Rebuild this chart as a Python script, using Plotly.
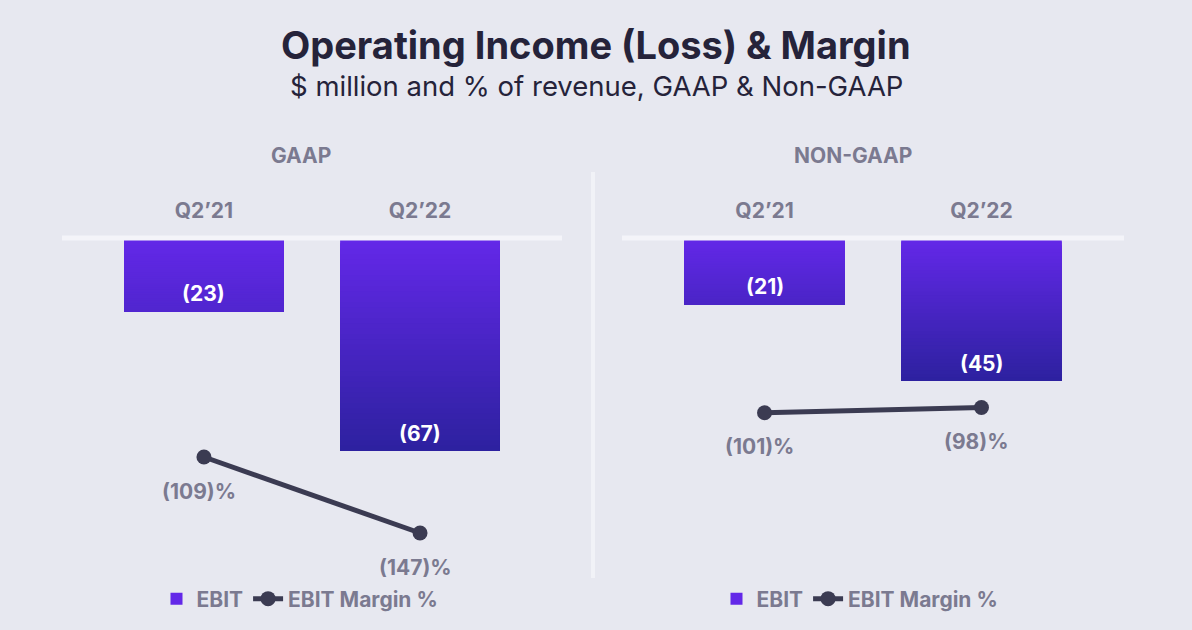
import plotly.graph_objects as go

# ---------------- data ----------------
categories = ["Q2’21", "Q2’22"]
gaap_ebit = [-23, -67]
gaap_margin = [-109, -147]
nongaap_ebit = [-21, -45]
nongaap_margin = [-101, -98]
panel_titles = ["GAAP", "NON-GAAP"]
title_text = "Operating Income (Loss) & Margin"
subtitle_text = "$ million and % of revenue, GAAP & Non-GAAP"

# ---------------- style ----------------
BG = "#e7e8f0"
DARK = "#25233a"
GRAY = "#7b7a90"
LINE = "#3b3b52"
TOP_C = (99, 40, 232)
BOT_C = (44, 33, 158)
BOLD_FONT = "Inter"
LBL = 21
W, H = 1192, 630


def lerp(t):
    c = [round(a + (b - a) * t) for a, b in zip(TOP_C, BOT_C)]
    return "rgb(%d,%d,%d)" % tuple(c)


def py(p):
    return 1 - p / H


fig = go.Figure()
N = 40
panels = [
    dict(ebit=gaap_ebit, margin=gaap_margin, xa="x", ya="y", ym="y2", legend="legend"),
    dict(ebit=nongaap_ebit, margin=nongaap_margin, xa="x2", ya="y3", ym="y4", legend="legend2"),
]

for p in panels:
    vals = p["ebit"]
    vmax = max(abs(v) for v in vals)
    for k in range(N):
        bases = [v * k / N for v in vals]
        ys = [v - b for v, b in zip(vals, bases)]
        if k == 0:
            colors = [lerp(0)] * len(vals)
        else:
            colors = [lerp(min(1, abs(b) / vmax)) for b in bases]
        fig.add_trace(go.Bar(
            x=categories, y=ys, base=bases, width=0.74,
            marker=dict(color=colors, line=dict(width=0)),
            name="EBIT", showlegend=(k == 0), legend=p["legend"],
            xaxis=p["xa"], yaxis=p["ya"], hoverinfo="skip",
        ))
    fig.add_trace(go.Scatter(
        x=categories, y=p["margin"], mode="lines+markers",
        line=dict(color=LINE, width=5),
        marker=dict(color=LINE, size=15),
        name="EBIT Margin %", legend=p["legend"],
        xaxis=p["xa"], yaxis=p["ym"], hoverinfo="skip",
    ))
    for c, v in zip(categories, vals):
        fig.add_annotation(x=c, y=v, xref=p["xa"], yref=p["ya"], text=f"({abs(v)})",
                           showarrow=False, yshift=18, yanchor="middle", xanchor="center",
                           font=dict(family=BOLD_FONT, size=LBL, color="white", weight="bold"))
    for c, v in zip(categories, p["margin"]):
        fig.add_annotation(x=c, y=v, xref=p["xa"], yref=p["ym"], text=f"({abs(v)})%",
                           showarrow=False, yshift=-34, xshift=-5, yanchor="middle", xanchor="center",
                           font=dict(family=BOLD_FONT, size=LBL, color=GRAY, weight="bold"))
    fig.add_shape(type="line", xref=p["xa"] + " domain", yref=p["ya"], x0=0, x1=1, y0=0, y1=0,
                  line=dict(color="#f4f4f9", width=5), layer="above")

ydom = [py(580), py(230)]
SCALE = 3.18
bar_range = [-(580 - 238) / SCALE, (238 - 230) / SCALE]
xrange_ = [-0.657, 1.657]
xcommon = dict(type="category", range=xrange_, side="top", showgrid=False, zeroline=False,
               showline=False, ticks="", ticklabelstandoff=7,
               tickfont=dict(family=BOLD_FONT, size=LBL, color=GRAY, weight="bold"),
               fixedrange=True)
ycommon = dict(domain=ydom, showgrid=False, zeroline=False, showline=False,
               showticklabels=False, ticks="", fixedrange=True)

legend_font = dict(family=BOLD_FONT, size=LBL, color=GRAY, weight="bold")
fig.update_layout(
    width=W, height=H,
    paper_bgcolor=BG, plot_bgcolor="rgba(0,0,0,0)",
    margin=dict(l=0, r=0, t=0, b=0),
    barmode="overlay",
    xaxis=dict(domain=[62 / W, 562 / W], anchor="y", **xcommon),
    xaxis2=dict(domain=[622 / W, 1124 / W], anchor="y3", **xcommon),
    yaxis=dict(anchor="x", range=bar_range, **ycommon),
    yaxis2=dict(anchor="x", overlaying="y", range=[-(580 - 239) / 2.0, (239 - 230) / 2.0], **ycommon),
    yaxis3=dict(anchor="x2", range=bar_range, **ycommon),
    yaxis4=dict(anchor="x2", overlaying="y3", range=[-(580 - 239) / 1.72, (239 - 230) / 1.72], **ycommon),
    legend=dict(orientation="h", x=300 / W, xanchor="center", y=py(599), yanchor="middle",
                bgcolor="rgba(0,0,0,0)", font=legend_font),
    legend2=dict(orientation="h", x=860 / W, xanchor="center", y=py(599), yanchor="middle",
                 bgcolor="rgba(0,0,0,0)", font=legend_font),
    showlegend=True,
)

# titles
fig.add_annotation(x=0.5, y=py(45), xref="paper", yref="paper", text=title_text, showarrow=False,
                   yanchor="middle", xanchor="center",
                   font=dict(family=BOLD_FONT, size=38, color=DARK, weight="bold"))
fig.add_annotation(x=0.5, y=py(86), xref="paper", yref="paper", text=subtitle_text, showarrow=False,
                   yanchor="middle", xanchor="center",
                   font=dict(family="Inter", size=27.5, color=DARK))
for t, xp in zip(panel_titles, [301, 853]):
    fig.add_annotation(x=xp / W, y=py(155), xref="paper", yref="paper", text=t, showarrow=False,
                       yanchor="middle", xanchor="center",
                       font=dict(family=BOLD_FONT, size=LBL, color=GRAY, weight="bold"))

# divider
fig.add_shape(type="line", xref="paper", yref="paper", x0=593 / W, x1=593 / W, y0=py(578), y1=py(172),
              line=dict(color="#f1f2f7", width=4))

fig.write_html(
    "out.html",
    config={"displayModeBar": False},
    post_script="document.body.style.margin='0';document.body.style.background='%s';" % BG,
)
